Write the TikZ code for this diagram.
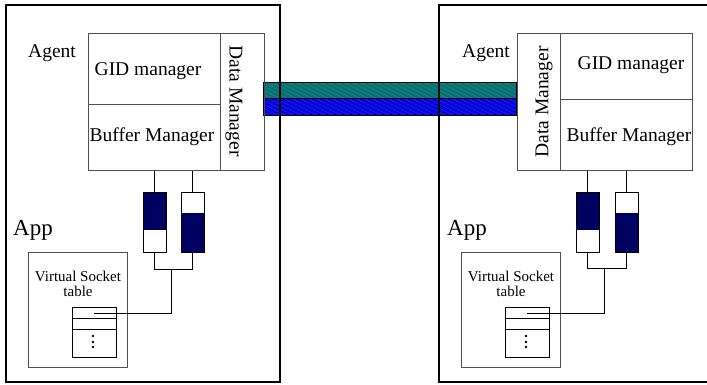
\documentclass[tikz,border=0pt]{standalone}
\usepackage{fontspec}
\setmainfont{Liberation Serif}
\definecolor{bandteal}{RGB}{0,128,128}
\definecolor{bandblue}{RGB}{0,0,255}
\definecolor{bufnavy}{RGB}{0,0,96}
\definecolor{boxgray}{RGB}{80,80,80}
\tikzset{
  outer/.style={line width=1.5pt,black},
  cell/.style={draw=boxgray,line width=0.8pt,rectangle,inner sep=0pt,anchor=north west},
  big/.style={font=\fontsize{19.5}{22}\selectfont,inner sep=0pt},
  app/.style={font=\fontsize{23}{26}\selectfont,inner sep=0pt},
  small/.style={font=\fontsize{15}{17}\selectfont,inner sep=0pt},
  bufbox/.style={draw=black,line width=0.8pt,rectangle,inner sep=0pt,anchor=north west,minimum width=22.5pt,minimum height=60pt},
  darktop/.style={path picture={\fill[bufnavy] (path picture bounding box.north west) rectangle ([yshift=-38pt]path picture bounding box.north east);}},
  darkbot/.style={path picture={\fill[bufnavy] ([yshift=-21pt]path picture bounding box.north west) rectangle (path picture bounding box.south east);}},
  wire/.style={line width=0.8pt,black},
  tabbox/.style={draw=black,line width=0.8pt,rectangle,inner sep=0pt,anchor=north west,minimum width=44pt,minimum height=50pt},
  vsbox/.style={draw=boxgray,line width=0.9pt,rectangle,inner sep=0pt,anchor=north west,minimum width=99pt,minimum height=115pt},
  bandbox/.style={draw=black,line width=0.6pt,inner sep=0pt,anchor=north west,minimum width=253pt},
  hatchline/.style={black!75,line width=0.45pt}
}
\begin{document}
\begin{tikzpicture}[x=1pt,y=-1pt]
\useasboundingbox (0,0) rectangle (707,384);
% band
\node[bandbox,fill=bandteal,minimum height=16pt] (bandT) at (263,82) {};
\node[bandbox,fill=bandblue,minimum height=17pt] (bandB) at (263,98) {};
\begin{scope}
  \clip (bandT.north west) rectangle (bandB.south east);
  \foreach \i in {-10,...,33} \draw[hatchline] (263+\i*8,80) -- ++(72,36);
\end{scope}
\draw[line width=0.6pt] (bandT.north west) rectangle (bandT.south east);
\draw[line width=0.6pt] (bandB.north west) rectangle (bandB.south east);
% outer boxes
\draw[outer] (6,5) rectangle (280,382);
\draw[outer] (712,5) -- (439,5) -- (439,382) -- (712,382);

% ---------- left side ----------
\node[cell,minimum width=132pt,minimum height=71pt] (gidL) at (88,33) {};
\node[cell,minimum width=132pt,minimum height=66pt] (bufL) at (88,104) {};
\node[cell,minimum width=44pt,minimum height=137pt] (dmL) at (220,33) {};
\node[big] (agentL) at (52,53) {Agent};
\node[big] at (148,71) {GID manager};
\node[big] at (152,137) {Buffer Manager};
\node[big,rotate=-90] at (234,101) {Data Manager};

\node[bufbox,darktop] (b1L) at (143,192) {};
\node[bufbox,darkbot] (b2L) at (181,192) {};
\draw[wire] (b1L.north) -- (b1L.north |- bufL.south);
\draw[wire] (b2L.north) -- (b2L.north |- bufL.south);
\draw[wire] (b1L.south) -- ++(0,17) -| (b2L.south);

\node[app] (appL) at (33,230) {App};
\node[vsbox] (vsL) at (28,252) {};
\node[small] at (78,276) {Virtual Socket};
\node[small] at (78,291) {table};
\node[tabbox] (tabL) at (72,307) {};
\draw[wire] ([yshift=-11pt]tabL.north west) -- ([yshift=-11pt]tabL.north east);
\draw[wire] ([yshift=-22pt]tabL.north west) -- ([yshift=-22pt]tabL.north east);
\foreach \yy in {336,342,347} \fill (93,\yy) circle (1.3pt);
\coordinate (jL) at (171,269);
\coordinate (rowL) at (94,313);
\draw[wire] (jL) |- (rowL);

% ---------- right side ----------
\node[cell,minimum width=43pt,minimum height=137pt] (dmR) at (517,33) {};
\node[cell,minimum width=132pt,minimum height=66pt] (gidR) at (560,33) {};
\node[cell,minimum width=132pt,minimum height=71pt] (bufR) at (560,99) {};
\node[big] (agentR) at (486,53) {Agent};
\node[big] at (631,65) {GID manager};
\node[big] at (629,137) {Buffer Manager};
\node[big,rotate=90] at (544,102) {Data Manager};

\node[bufbox,darktop] (b1R) at (576,192) {};
\node[bufbox,darkbot] (b2R) at (615,192) {};
\draw[wire] (b1R.north) -- (b1R.north |- bufR.south);
\draw[wire] (b2R.north) -- (b2R.north |- bufR.south);
\draw[wire] (b1R.south) -- ++(0,16) -| (b2R.south);

\node[app] (appR) at (467,230) {App};
\node[vsbox] (vsR) at (461,252) {};
\node[small] at (511,276) {Virtual Socket};
\node[small] at (511,291) {table};
\node[tabbox] (tabR) at (505,307) {};
\draw[wire] ([yshift=-11pt]tabR.north west) -- ([yshift=-11pt]tabR.north east);
\draw[wire] ([yshift=-22pt]tabR.north west) -- ([yshift=-22pt]tabR.north east);
\foreach \yy in {336,342,347} \fill (526,\yy) circle (1.3pt);
\coordinate (jR) at (604,268);
\coordinate (rowR) at (527,313);
\draw[wire] (jR) |- (rowR);
\end{tikzpicture}
\end{document}
